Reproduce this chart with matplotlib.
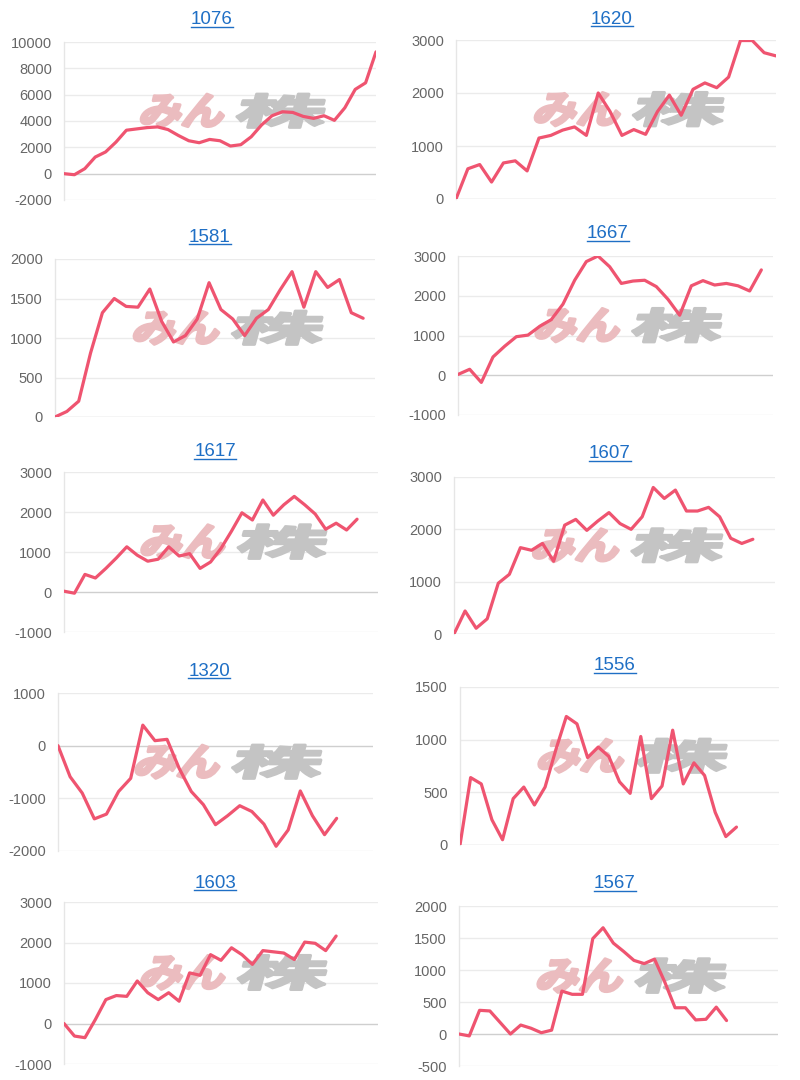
import matplotlib
matplotlib.use("Agg")
import matplotlib.pyplot as plt
from matplotlib.textpath import TextPath
from matplotlib.font_manager import FontProperties
from matplotlib.patches import PathPatch
from matplotlib.transforms import Affine2D
from matplotlib.lines import Line2D

plt.rcParams['font.family'] = ['Liberation Sans', 'DejaVu Sans']
plt.rcParams['axes.unicode_minus'] = False

W, H = 800, 1080

# stock codes, in reading order (left/right, top to bottom)
codes = ['1076', '1620', '1581', '1667', '1617', '1607', '1320', '1556', '1603', '1567']

profit_1076 = [0, -80, 380, 1260, 1650, 2400, 3300, 3400, 3500, 3550, 3350, 2900,
               2500, 2350, 2600, 2500, 2100, 2200, 2800, 3700, 4400, 4700, 4650,
               4350, 4200, 4400, 4050, 5000, 6400, 6900, 9250]
profit_1620 = [0, 570, 650, 320, 680, 720, 530, 1150, 1200, 1300, 1360, 1200, 2000,
               1650, 1200, 1310, 1220, 1650, 1960, 1580, 2070, 2190, 2100, 2300,
               2990, 2990, 2760, 2700]
profit_1581 = [0, 70, 200, 810, 1320, 1500, 1400, 1390, 1620, 1210, 950, 1030, 1240,
               1700, 1360, 1240, 1030, 1250, 1360, 1610, 1840, 1390, 1840, 1640,
               1740, 1320, 1250]
profit_1667 = [20, 150, -180, 460, 730, 970, 1010, 1230, 1400, 1790, 2390, 2860, 3000,
               2730, 2310, 2370, 2390, 2230, 1910, 1510, 2250, 2380, 2270, 2310,
               2250, 2120, 2650]
profit_1617 = [20, -30, 440, 350, 590, 850, 1130, 920, 770, 820, 1130, 900, 960, 590,
               750, 1090, 1520, 1980, 1800, 2300, 1920, 2180, 2390, 2180, 1950, 1570,
               1720, 1550, 1820]
profit_1607 = [0, 440, 110, 290, 970, 1140, 1650, 1600, 1730, 1390, 2080, 2190, 1980,
               2160, 2320, 2110, 2000, 2240, 2800, 2590, 2750, 2350, 2350, 2420,
               2240, 1830, 1730, 1810]
profit_1320 = [0, -590, -900, -1390, -1300, -870, -620, 390, 95, 120, -430, -870,
               -1120, -1500, -1330, -1140, -1250, -1490, -1910, -1600, -860, -1330,
               -1690, -1380]
profit_1556 = [0, 640, 580, 240, 50, 440, 550, 380, 550, 900, 1220, 1150, 830, 930,
               840, 600, 490, 1030, 440, 560, 1090, 580, 780, 660, 310, 80, 170]
profit_1603 = [0, -310, -350, 100, 590, 690, 670, 1050, 760, 590, 760, 550, 1250,
               1190, 1700, 1560, 1870, 1700, 1460, 1800, 1770, 1740, 1580, 2010,
               1980, 1800, 2160]
profit_1567 = [0, -30, 370, 360, 180, 0, 140, 90, 20, 60, 670, 620, 620, 1490, 1660,
               1420, 1290, 1150, 1100, 1170, 810, 410, 410, 220, 230, 420, 210]

series = [profit_1076, profit_1620, profit_1581, profit_1667, profit_1617,
          profit_1607, profit_1320, profit_1556, profit_1603, profit_1567]

# number of x categories on each chart
slots = [31, 28, 28, 28, 31, 30, 27, 31, 31, 32]

y_ticks = [
    [-2000, 0, 2000, 4000, 6000, 8000, 10000],
    [0, 1000, 2000, 3000],
    [0, 500, 1000, 1500, 2000],
    [-1000, 0, 1000, 2000, 3000],
    [-1000, 0, 1000, 2000, 3000],
    [0, 1000, 2000, 3000],
    [-2000, -1000, 0, 1000],
    [0, 500, 1000, 1500],
    [-1000, 0, 1000, 2000, 3000],
    [-500, 0, 500, 1000, 1500, 2000],
]

# plot areas in pixels: left, top, right, bottom
boxes = [
    (64, 42, 376, 200), (456, 40, 776, 199),
    (55, 259, 375, 417), (458, 256, 773, 415),
    (64, 472, 378, 632), (454, 477, 775, 634),
    (58, 693, 373, 851), (460, 687, 779, 845),
    (64, 902, 378, 1064), (459, 906, 778, 1066),
]
# title centres in pixels
title_pos = [
    (212, 18), (612, 17), (210, 235), (608, 232), (215, 450),
    (610, 452), (209, 669), (615, 664), (215, 881), (615, 882),
]

LINE = '#ef5470'
LINK = '#1f6fc5'

fig = plt.figure(figsize=(W / 100, H / 100), dpi=100)
fig.patch.set_facecolor('white')

wm_font = FontProperties(family='Noto Sans CJK JP', weight='bold')
px = Affine2D().scale(1 / W, 1 / H)


def draw_watermark(ax, box):
    """Faint 'みん株' logo in the middle of each chart."""
    l, t, r, b = box
    w, h = r - l, b - t
    top, bot = t + 0.33 * h, t + 0.54 * h
    skew = 15
    shift = (bot - top) * 0.268
    parts = [("みん", 0.24, 0.53, '#ebbcbf'), ("株", 0.545, 0.855, '#c4c4c4')]
    for text, x0, x1, color in parts:
        path = TextPath((0, 0), text, size=100, prop=wm_font)
        ext = path.get_extents()
        sx = ((x1 - x0) * w - shift) / ext.width
        sy = (bot - top) / ext.height
        tr = (Affine2D().translate(-ext.x0, -ext.y0).scale(sx, sy)
              .skew_deg(skew, 0).translate(l + x0 * w, H - bot) + px + fig.transFigure)
        patch = PathPatch(path, transform=tr, facecolor=color, edgecolor=color,
                          lw=2.2, joinstyle='round', zorder=1, clip_on=False)
        ax.add_artist(patch)


titles = []
for i, code in enumerate(codes):
    l, t, r, b = boxes[i]
    ax = fig.add_axes([l / W, 1 - b / H, (r - l) / W, (b - t) / H])
    vals = series[i]
    ticks = y_ticks[i]

    for v in ticks:
        ax.axhline(v, color='#cfcfcf' if v == 0 else '#ebebeb', lw=1, zorder=0.5)
    draw_watermark(ax, boxes[i])
    ax.plot(range(len(vals)), vals, color=LINE, lw=2.3, zorder=3,
            solid_joinstyle='round', solid_capstyle='round')

    ax.set_xlim(0, slots[i] - 1)
    ax.set_ylim(ticks[0], ticks[-1])
    ax.set_yticks(ticks)
    ax.set_xticks([])
    ax.tick_params(axis='y', length=0, pad=8.6, labelcolor='#666666', labelsize=10.5)
    for side in ['top', 'right', 'bottom']:
        ax.spines[side].set_visible(False)
    ax.spines['left'].set_color('#e6e6e6')
    ax.spines['left'].set_linewidth(1)
    ax.set_facecolor('none')

    cx, cy = title_pos[i]
    titles.append(fig.text(cx / W, 1 - (cy + 6.5) / H, code, ha='center',
                           va='baseline', color=LINK, fontsize=13.5))

# underline the titles like links
fig.canvas.draw()
renderer = fig.canvas.get_renderer()
for i, txt in enumerate(titles):
    bb = txt.get_window_extent(renderer)
    base = H - (title_pos[i][1] + 6.5) - 2.5
    fig.add_artist(Line2D([bb.x0 / W, bb.x1 / W], [base / H, base / H],
                          transform=fig.transFigure, color=LINK, lw=1.0))

fig.savefig('out.png', dpi=100)
